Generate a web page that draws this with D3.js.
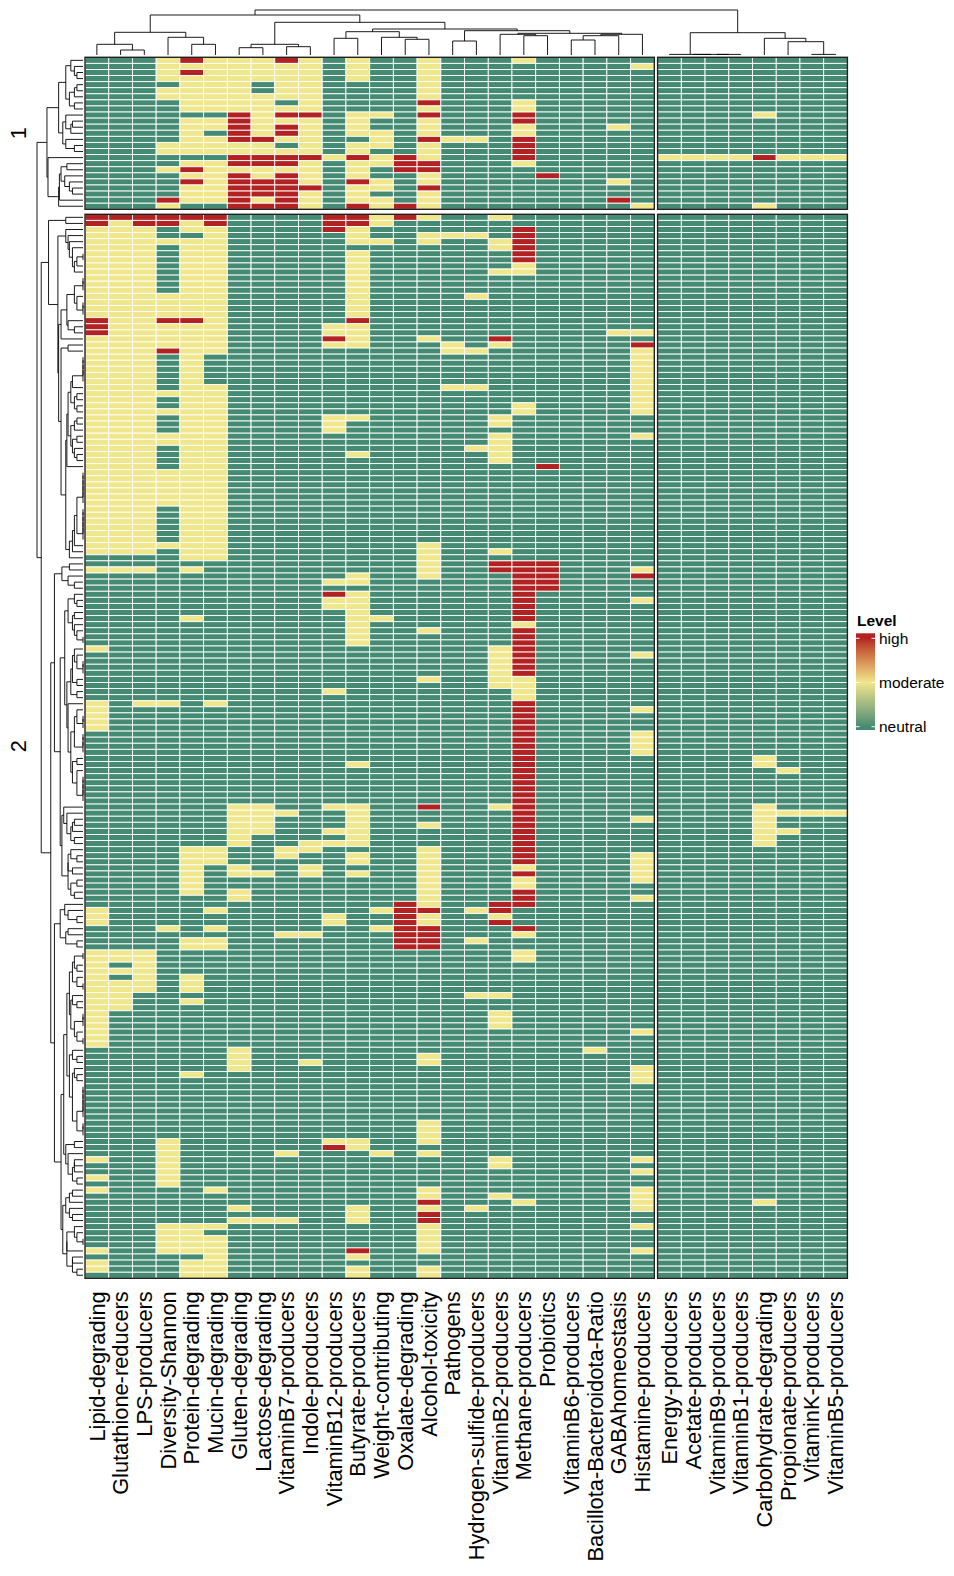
<!DOCTYPE html>
<html>
<head>
<meta charset="utf-8">
<script src="https://cdn.jsdelivr.net/npm/d3@7"></script>
<style>
  html, body { margin: 0; padding: 0; background: #fff; }
  svg { display: block; font-family: "Liberation Sans", Arial, sans-serif; }
</style>
</head>
<body>
<div id="chart"></div>
<script>
// columns of the two column slices
var leftColumns = ['Lipid-degrading', 'Glutathione-reducers', 'LPS-producers', 'Diversity-Shannon', 'Protein-degrading',
  'Mucin-degrading', 'Gluten-degrading', 'Lactose-degrading', 'VitaminB7-producers', 'Indole-producers',
  'VitaminB12-producers', 'Butyrate-producers', 'Weight-contributing', 'Oxalate-degrading', 'Alcohol-toxicity',
  'Pathogens', 'Hydrogen-sulfide-producers', 'VitaminB2-producers', 'Methane-producers', 'Probiotics',
  'VitaminB6-producers', 'Bacillota-Bacteroidota-Ratio', 'GABAhomeostasis', 'Histamine-producers'];
var rightColumns = ['Energy-producers', 'Acetate-producers', 'VitaminB9-producers', 'VitaminB1-producers',
  'Carbohydrate-degrading', 'Propionate-producers', 'VitaminK-producers', 'VitaminB5-producers'];

var levelLabels = ['neutral', 'moderate', 'high'];
var levelColors = ['#458B74', '#F0E68C', '#B22222'];
var rowSliceTitles = ['1', '2'];

// one string per column, one digit per row: 0 neutral, 1 moderate, 2 high
// row slice 1 (25 rows)
var slice1Left = [
  '00000 00000 00000 00000 00000',
  '00000 00000 00000 00000 00000',
  '00000 00000 00000 00000 00000',
  '11110 11000 00001 10010 00021',
  '21211 11110 11111 10121 21110',
  '11111 11110 11011 10111 11110',
  '11111 11112 22221 12212 22222',
  '11110 01111 11121 12211 22212',
  '21111 11012 12210 12212 22222',
  '11111 11112 11111 12111 12111',
  '00000 00000 00000 01000 00000',
  '11110 00001 11101 12111 21112',
  '00000 00001 00111 01100 11011',
  '00000 00000 00000 02220 00002',
  '11111 11212 11121 11221 12111',
  '00000 00000 00010 00000 00000',
  '00000 00000 00010 00000 00000',
  '00000 00000 00000 00000 00000',
  '10000 00112 21122 22100 00000',
  '00000 00000 00000 00002 00000',
  '00000 00000 00000 00000 00000',
  '00000 00000 00000 00000 00000',
  '00000 00000 01000 00000 10020',
  '01000 00000 00000 00000 00001'
];
var slice1Right = [
  '00000 00000 00000 01000 00000',
  '00000 00000 00000 01000 00000',
  '00000 00000 00000 01000 00000',
  '00000 00000 00000 01000 00000',
  '00000 00001 00000 02000 00001',
  '00000 00000 00000 01000 00000',
  '00000 00000 00000 01000 00000',
  '00000 00000 00000 01000 00000'
];

// row slice 2 (175 rows)
var slice2Left = [
  '2211111111 1111111222 1111111111 1111111111 1111111111 1111110010 0000000000 0100000000 1111100000 0000000000 0000000000 0000111000 0111111111 1111111000 0000000000 0000010010 1000000000 10110',
  '2111111111 1111111111 1111111111 1111111111 1111111111 1111110010 0000000000 0000000000 0000000000 0000000000 0000000000 0000000000 0110101111 1000000000 0000000000 0000000000 0000000000 00000',
  '2211111111 1111111111 1111111111 1111111111 1111111111 1111110010 0000000000 0000000000 1000000000 0000000000 0000000000 0000000000 0111111100 0000000000 0000000000 0000000000 0000000000 00000',
  '2200100000 0001111211 1120000001 0010001100 0011111100 0000100000 0000000000 0000000000 1000000000 0000000000 0000000000 0000000100 0000000000 0000000000 0000000000 0011111111 0000001111 10000',
  '2110111111 1111111211 1111111111 1111111111 1111111111 1111111010 0000001000 0000000000 0000000000 0000000000 0000111111 1100000001 1000011101 0000000000 0100000000 0000000000 0000001111 10111',
  '2211111111 1111111111 1110000011 1111111111 1111111111 1111111000 0000000000 0000000000 1000000000 0000000000 0000111000 0000100101 1000000000 0000000000 0000000000 0000000000 1000001011 11111',
  '0000000000 0000000000 0000000000 0000000000 0000000000 0000000000 0000000000 0000000000 0000000000 0000000111 1111000110 0110000000 0000000000 0000000111 1000000000 0000000000 0001010000 00000',
  '0000000000 0000000000 0000000000 0000000000 0000000000 0000000000 0000000000 0000000000 0000000000 0000000111 1100000010 0000000000 0000000000 0000000000 0000000000 0000000000 0000010000 00000',
  '0000000000 0000000000 0000000000 0000000000 0000000000 0000000000 0000000000 0000000000 0000000000 0000000010 0000110000 0000000010 0000000000 0000000000 0000000000 0000100000 0000010000 00000',
  '0000000000 0000000000 0000000000 0000000000 0000000000 0000000000 0000000000 0000000000 0000000000 0000000000 0001100110 0000000010 0000000000 0000000001 0000000000 0000000000 0000000000 00000',
  '2220000000 0000000011 2100000000 0001110000 0000000000 0000000000 1021100000 0000000010 0000000000 0000000100 0101000000 0000011000 0000000000 0000000000 0000000000 0012000000 0000000000 00000',
  '2211101111 1111111211 1100000000 0001000001 0000000000 0000000001 1011111111 1000000000 0000000000 1000000111 1111011010 0000000000 0000000000 0000000000 0000000000 0011000000 0001110000 21011',
  '1100100000 0000000000 0000000000 0000000000 0000000000 0000000000 0000001000 0000000000 0000000000 0000000000 0000000000 0000100100 0000000000 0000000000 0000000000 0000100000 0000000000 00000',
  '2000000000 0000000000 0000000000 0000000000 0000000000 0000000000 0000000000 0000000000 0000000000 0000000000 0000000000 0002222222 2000000000 0000000000 0000000000 0000000000 0000000000 00000',
  '1001100000 0000000000 1000000000 0000000000 0000000000 0000111111 0000000010 0000001000 0000000000 0000000200 1000111111 1111211222 2000000000 0000000011 0000000001 1110100000 1121221111 10011',
  '0001000000 0000000000 0110000010 0000000000 0000000000 0000000000 0000000000 0000000000 0000000000 0000000000 0000000000 0000000000 0000000000 0000000000 0000000000 0000000000 0000000000 00000',
  '0001000000 0001000000 0010000010 0000000010 0000000000 0000000000 0000000000 0000000000 0000000000 0000000000 0000000000 0000100001 0000000010 0000000000 0000000000 0000000000 0001000000 00000',
  '1000110001 0000000000 2100000000 0001101111 1000000000 0000010220 0000000000 0111111100 0000000000 0000000100 0000000000 0002212000 0000000010 0111000000 0000000000 0000011000 0100000000 00000',
  '0022222211 0000000000 0000000000 0110000000 0000000000 0000000222 2222222122 2222221111 2222222222 2222222222 2222222121 1222000210 0110000000 0000000000 0000000000 0000000000 0010000000 00000',
  '0000000000 0000000000 0000000000 0000000000 0200000000 0000000222 2200000000 0000000000 0000000000 0000000000 0000000000 0000000000 0000000000 0000000000 0000000000 0000000000 0000000000 00000',
  '0000000000 0000000000 0000000000 0000000000 0000000000 0000000000 0000000000 0000000000 0000000000 0000000000 0000000000 0000000000 0000000000 0000000000 0000000000 0000000000 0000000000 00000',
  '0000000000 0000000000 0000000000 0000000000 0000000000 0000000000 0000000000 0000000000 0000000000 0000000000 0000000000 0000000000 0000000000 0000000100 0000000000 0000000000 0000000000 00000',
  '0000000000 0000000001 0000000000 0000000000 0000000000 0000000000 0000000000 0000000000 0000000000 0000000000 0000000000 0000000000 0000000000 0000000000 0000000000 0000000000 0000000000 00000',
  '0000000000 0000000001 0211111111 1110001000 0000000000 0000000012 0001000000 0010000000 0100011110 0000000001 0000011111 0010000000 0000000000 0000100000 1110000000 0000010100 1111001000 10000'
];
var slice2Right = [
  '0000000000 0000000000 0000000000 0000000000 0000000000 0000000000 0000000000 0000000000 0000000000 0000000000 0000000000 0000000000 0000000000 0000000000 0000000000 0000000000 0000000000 00000',
  '0000000000 0000000000 0000000000 0000000000 0000000000 0000000000 0000000000 0000000000 0000000000 0000000000 0000000000 0000000000 0000000000 0000000000 0000000000 0000000000 0000000000 00000',
  '0000000000 0000000000 0000000000 0000000000 0000000000 0000000000 0000000000 0000000000 0000000000 0000000000 0000000000 0000000000 0000000000 0000000000 0000000000 0000000000 0000000000 00000',
  '0000000000 0000000000 0000000000 0000000000 0000000000 0000000000 0000000000 0000000000 0000000000 0000000000 0000000000 0000000000 0000000000 0000000000 0000000000 0000000000 0000000000 00000',
  '0000000000 0000000000 0000000000 0000000000 0000000000 0000000000 0000000000 0000000000 0000000001 1000000111 1111000000 0000000000 0000000000 0000000000 0000000000 0000000000 0010000000 00000',
  '0000000000 0000000000 0000000000 0000000000 0000000000 0000000000 0000000000 0000000000 0000000000 0100000010 0100000000 0000000000 0000000000 0000000000 0000000000 0000000000 0000000000 00000',
  '0000000000 0000000000 0000000000 0000000000 0000000000 0000000000 0000000000 0000000000 0000000000 0000000010 0000000000 0000000000 0000000000 0000000000 0000000000 0000000000 0000000000 00000',
  '0000000000 0000000000 0000000000 0000000000 0000000000 0000000000 0000000000 0000000000 0000000000 0000000010 0000000000 0000000000 0000000000 0000000000 0000000000 0000000000 0000000000 00000'
];

// column dendrogram: [merge height, left branch, right branch]
var columnTree =
  [45,
    [40,
      [22.7,
        [10.7, 'Lipid-degrading', [5, 'Glutathione-reducers', 'LPS-producers']],
        [17.7, 'Diversity-Shannon', [10.7, 'Protein-degrading', 'Mucin-degrading']]],
      [32.7,
        [10.7, [7.3, 'Gluten-degrading', 'Lactose-degrading'], [8.3, 'VitaminB7-producers', 'Indole-producers']],
        [26,
          [23.3,
            [16.7, 'VitaminB12-producers', 'Butyrate-producers'],
            [17.7, 'Weight-contributing', [15.7, 'Oxalate-degrading', 'Alcohol-toxicity']]],
          [24.3,
            [14, 'Pathogens', 'Hydrogen-sulfide-producers'],
            [21.7,
              [20.7, 'VitaminB2-producers', [19.3, 'Methane-producers', 'Probiotics']],
              [20.7, [19.3, [15, 'VitaminB6-producers', 'Bacillota-Bacteroidota-Ratio'], 'GABAhomeostasis'], 'Histamine-producers']]]]]],
    [22.3,
      [0.6, 'Energy-producers', [0.6, 'Acetate-producers', [0.6, 'VitaminB9-producers', 'VitaminB1-producers']]],
      [16.7, 'Carbohydrate-degrading', [13.3, 'Propionate-producers', [0.6, 'VitaminK-producers', 'VitaminB5-producers']]]]];

(function () {
  'use strict';

  var width = 954, height = 1576;
  var rowH = 6.08, sliceGap = 5, heatTop = 57.3;

  function clean(s) { return s.replace(/\s+/g, ''); }

  var slices = [
    { title: rowSliceTitles[0], left: slice1Left.map(clean), right: slice1Right.map(clean) },
    { title: rowSliceTitles[1], left: slice2Left.map(clean), right: slice2Right.map(clean) }
  ];

  var yPos = heatTop, offset = 0;
  slices.forEach(function (s) {
    s.n = s.left[0].length;
    s.offset = offset;
    s.y = d3.scaleBand().domain(d3.range(s.n)).range([yPos, yPos + s.n * rowH]);
    yPos += s.n * rowH + sliceGap;
    offset += s.n;
  });
  var heatBottom = yPos - sliceGap;

  var xLeft = d3.scaleBand().domain(leftColumns).range([85, 654.3]);
  var xRight = d3.scaleBand().domain(rightColumns).range([657.6, 847.4]);
  var blocks = [{ cols: leftColumns, x: xLeft, key: 'left' }, { cols: rightColumns, x: xRight, key: 'right' }];

  var color = d3.scaleLinear().domain([0, 1, 2]).range(levelColors).interpolate(d3.interpolateLab);

  var svg = d3.select('#chart').append('svg').attr('width', width).attr('height', height);

  // Heatmap cells
  slices.forEach(function (s) {
    blocks.forEach(function (b) {
      var cells = [];
      b.cols.forEach(function (c, j) {
        var str = s[b.key][j];
        for (var i = 0; i < s.n; i++) cells.push({ col: c, row: i, v: +(str[i] || 0) });
      });
      var g = svg.append('g');
      g.selectAll('rect').data(cells).enter().append('rect')
        .attr('x', function (d) { return b.x(d.col); })
        .attr('y', function (d) { return s.y(d.row); })
        .attr('width', b.x.bandwidth()).attr('height', s.y.bandwidth())
        .attr('fill', function (d) { return color(d.v); })
        .attr('stroke', '#fff').attr('stroke-width', 0.9);
      g.append('rect')
        .attr('x', b.x.range()[0]).attr('y', s.y.range()[0])
        .attr('width', b.x.range()[1] - b.x.range()[0]).attr('height', s.y.range()[1] - s.y.range()[0])
        .attr('fill', 'none').attr('stroke', '#222').attr('stroke-width', 1.4);
    });
  });

  // Row dendrogram: complete linkage, merging only neighbouring rows (keeps the drawn order)
  var vectors = [];
  slices.forEach(function (s) {
    for (var i = 0; i < s.n; i++) {
      var v = [];
      s.left.forEach(function (str) { v.push(+(str[i] || 0)); });
      s.right.forEach(function (str) { v.push(+(str[i] || 0)); });
      vectors.push(v);
    }
  });
  var N = vectors.length;
  var D = new Float64Array(N * N);
  for (var a = 0; a < N; a++) {
    for (var b2 = a + 1; b2 < N; b2++) {
      var sum = 0;
      for (var k = 0; k < vectors[a].length; k++) { var df = vectors[a][k] - vectors[b2][k]; sum += df * df; }
      D[a * N + b2] = D[b2 * N + a] = Math.sqrt(sum);
    }
  }
  function linkage(A, B) {
    var m = 0;
    A.members.forEach(function (i) { B.members.forEach(function (j) { if (D[i * N + j] > m) m = D[i * N + j]; }); });
    return m;
  }
  function orderedTree(s) {
    var nodes = d3.range(s.n).map(function (i) {
      return { h: 0, members: [s.offset + i], y: s.y(i) + s.y.bandwidth() / 2 };
    });
    while (nodes.length > 1) {
      var best = 0, bestD = Infinity;
      for (var q = 0; q < nodes.length - 1; q++) {
        var dd = linkage(nodes[q], nodes[q + 1]);
        if (dd < bestD) { bestD = dd; best = q; }
      }
      var merged = { h: bestD, members: nodes[best].members.concat(nodes[best + 1].members), children: [nodes[best], nodes[best + 1]] };
      nodes.splice(best, 2, merged);
    }
    return nodes[0];
  }
  var sliceRoots = slices.map(orderedTree);
  var rowRoot = { h: linkage(sliceRoots[0], sliceRoots[1]), children: sliceRoots };

  var rowRootH = d3.hierarchy(rowRoot, function (d) { return d.children; });
  rowRootH.eachAfter(function (n) {
    if (n.children) n.data.y = (n.children[0].data.y + n.children[1].data.y) / 2;
  });
  var xDend = d3.scaleLinear().domain([0, rowRoot.h]).range([83, 37]);

  var rowDend = svg.append('g').attr('fill', 'none').attr('stroke', '#000').attr('stroke-width', 0.9);
  rowRootH.descendants().filter(function (n) { return n.children; }).forEach(function (n) {
    var c0 = n.children[0].data, c1 = n.children[1].data;
    var p = d3.path();
    p.moveTo(xDend(c0.h), c0.y);
    p.lineTo(xDend(n.data.h), c0.y);
    p.lineTo(xDend(n.data.h), c1.y);
    p.lineTo(xDend(c1.h), c1.y);
    rowDend.append('path').attr('d', p.toString());
  });

  // Column dendrogram
  function toNode(t) {
    return Array.isArray(t) ? { h: t[0], children: [toNode(t[1]), toNode(t[2])] } : { h: 0, name: t };
  }
  function colCenter(name) {
    var sc = leftColumns.indexOf(name) >= 0 ? xLeft : xRight;
    return sc(name) + sc.bandwidth() / 2;
  }
  var colRoot = d3.hierarchy(toNode(columnTree), function (d) { return d.children; });
  colRoot.eachAfter(function (n) {
    n.data.x = n.children ? (n.children[0].data.x + n.children[1].data.x) / 2 : colCenter(n.data.name);
  });
  var yDend = d3.scaleLinear().domain([0, 45]).range([55, 10]);
  var colDend = svg.append('g').attr('fill', 'none').attr('stroke', '#000').attr('stroke-width', 0.9);
  colRoot.descendants().filter(function (n) { return n.children; }).forEach(function (n) {
    var c0 = n.children[0].data, c1 = n.children[1].data;
    var p = d3.path();
    p.moveTo(c0.x, yDend(c0.h));
    p.lineTo(c0.x, yDend(n.data.h));
    p.lineTo(c1.x, yDend(n.data.h));
    p.lineTo(c1.x, yDend(c1.h));
    colDend.append('path').attr('d', p.toString());
  });

  // Column labels
  var labelY = heatBottom + 13;
  var labels = svg.append('g').attr('font-size', '21.8px').attr('fill', '#000');
  blocks.forEach(function (b) {
    labels.selectAll(null).data(b.cols).enter().append('text')
      .attr('transform', function (d) {
        return 'translate(' + (b.x(d) + b.x.bandwidth() / 2) + ',' + labelY + ') rotate(-90)';
      })
      .attr('text-anchor', 'end').attr('dy', '0.35em')
      .text(function (d) { return d; });
  });

  // Row slice titles
  slices.forEach(function (s) {
    var cy = (s.y.range()[0] + s.y.range()[1]) / 2;
    svg.append('text')
      .attr('transform', 'translate(18,' + cy + ') rotate(-90)')
      .attr('text-anchor', 'middle').attr('dy', '0.35em')
      .attr('font-size', '21.8px').text(s.title);
  });

  // Legend
  var legY = d3.scaleLinear().domain([0, 2]).range([726.7, 638.3]);
  var defs = svg.append('defs');
  var grad = defs.append('linearGradient').attr('id', 'levelGrad')
    .attr('gradientUnits', 'userSpaceOnUse')
    .attr('x1', 0).attr('x2', 0).attr('y1', legY(0)).attr('y2', legY(2));
  d3.range(0, 2.0001, 0.1).forEach(function (v) {
    grad.append('stop').attr('offset', (v / 2 * 100) + '%').attr('stop-color', color(v));
  });
  var leg = svg.append('g');
  leg.append('text').attr('x', 857).attr('y', 626)
    .attr('font-size', '15.5px').attr('font-weight', 'bold').text('Level');
  leg.append('rect').attr('x', 856).attr('y', legY(2) - 5).attr('width', 19)
    .attr('height', legY(0) - legY(2) + 8.3).attr('fill', 'url(#levelGrad)');
  levelLabels.forEach(function (lab, i) {
    leg.append('line').attr('x1', 856).attr('x2', 859.5).attr('y1', legY(i)).attr('y2', legY(i))
      .attr('stroke', '#fff').attr('stroke-width', 1);
    leg.append('line').attr('x1', 871.5).attr('x2', 875).attr('y1', legY(i)).attr('y2', legY(i))
      .attr('stroke', '#fff').attr('stroke-width', 1);
    leg.append('text').attr('x', 879).attr('y', legY(i)).attr('dy', '0.35em')
      .attr('font-size', '15.5px').text(lab);
  });
})();
</script>
</body>
</html>
